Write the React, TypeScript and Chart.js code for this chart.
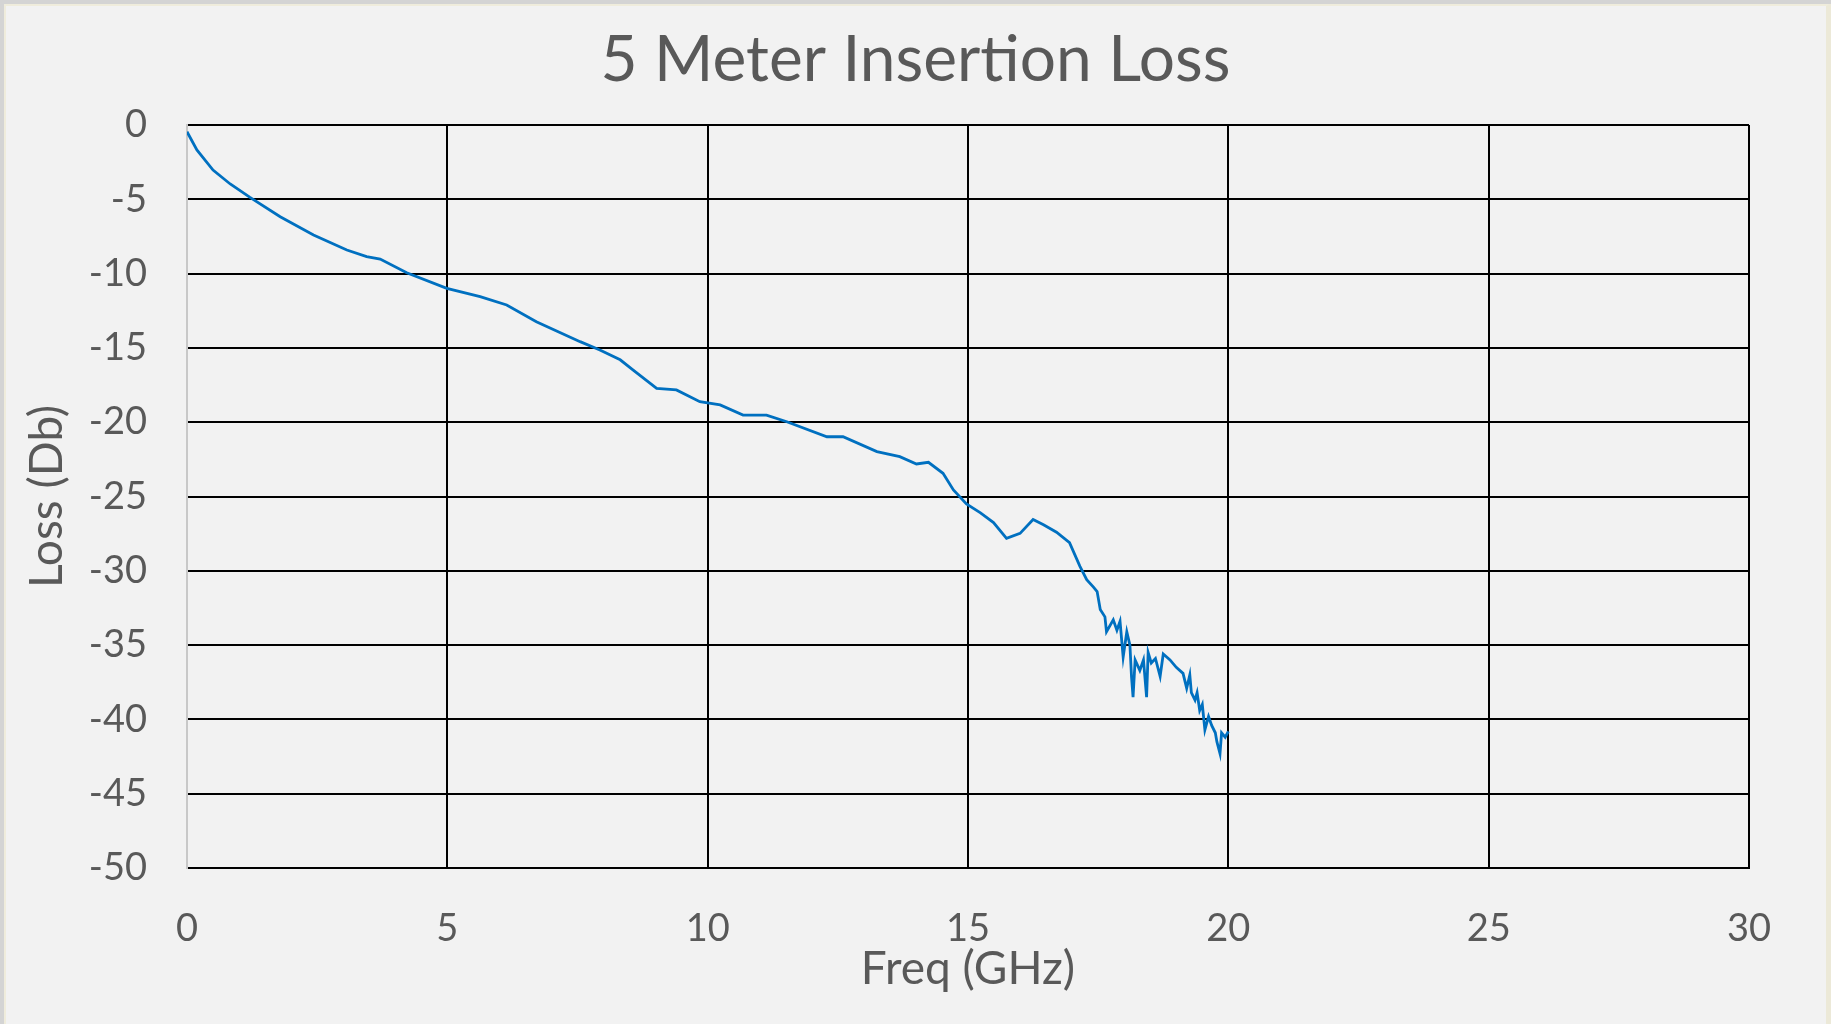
import React, { useEffect, useRef } from "react";
import { Chart, registerables } from "chart.js";

Chart.register(...registerables);

const chartTitle = "5 Meter Insertion Loss";
const xAxisTitle = "Freq (GHz)";
const yAxisTitle = "Loss (Db)";

const freqGHz = [
  0, 0.19, 0.5, 0.83, 1.21, 1.79, 2.43, 3.07, 3.45, 3.71, 4.22, 4.99, 5.63, 6.14, 6.71, 7.55, 7.93, 8.32,
  8.57, 9.02, 9.4, 9.85, 10.24, 10.68, 11.13, 11.52, 12.29, 12.6, 13.25, 13.69, 14.01, 14.24, 14.52,
  14.72, 14.97, 15.24, 15.49, 15.74, 16.0, 16.25, 16.45, 16.7, 16.95, 17.15, 17.28, 17.41, 17.48,
  17.54, 17.63, 17.66, 17.79, 17.86, 17.92, 17.98, 18.05, 18.11, 18.14, 18.17, 18.21, 18.3, 18.37,
  18.43, 18.46, 18.52, 18.6, 18.69, 18.75, 18.88, 19.0, 19.13, 19.2, 19.26, 19.29, 19.36, 19.4,
  19.45, 19.5, 19.55, 19.62, 19.68, 19.75, 19.78, 19.84, 19.87, 19.94, 20.0,
];

const lossDb = [
  -0.45, -1.68, -3.03, -3.97, -4.87, -6.17, -7.4, -8.41, -8.86, -9.02, -9.94, -10.99, -11.55, -12.11, -13.24,
  -14.58, -15.14, -15.8, -16.49, -17.72, -17.83, -18.62, -18.84, -19.52, -19.52, -19.97, -20.98,
  -20.98, -21.98, -22.32, -22.81, -22.7, -23.44, -24.56, -25.5, -26.1, -26.75, -27.82, -27.48,
  -26.55, -26.9, -27.4, -28.1, -29.7, -30.6, -31.1, -31.4, -32.6, -33.1, -34.1, -33.3, -34.0, -33.4,
  -35.8, -34.1, -35.0, -37.1, -38.5, -36.0, -36.7, -36.0, -38.5, -35.5, -36.2, -35.9, -37.1, -35.6,
  -36.0, -36.5, -36.9, -37.9, -37.0, -38.2, -38.7, -38.2, -39.4, -39.0, -40.7, -39.8, -40.4, -40.9,
  -41.5, -42.3, -40.9, -41.2, -40.8,
];

const xTicks = [0, 5, 10, 15, 20, 25, 30];
const yTicks = [0, -5, -10, -15, -20, -25, -30, -35, -40, -45, -50];

const TEXT = "#595959";
const FONT = "Lato";

export default function App() {
  const ref = useRef<HTMLCanvasElement | null>(null);

  useEffect(() => {
    document.body.style.margin = "0";
    const canvas = ref.current;
    if (!canvas) return;
    const points = freqGHz.map((f, i) => ({ x: f, y: lossDb[i] }));
    const chart = new Chart(canvas, {
      type: "scatter",
      data: {
        datasets: [
          {
            label: yAxisTitle,
            data: points,
            showLine: true,
            borderColor: "#0070C0",
            backgroundColor: "#0070C0",
            borderWidth: 2.8,
            pointRadius: 0,
            tension: 0,
            yAxisID: "y",
          },
        ],
      },
      options: {
        animation: false,
        responsive: false,
        maintainAspectRatio: false,
        layout: { padding: 0 },
        plugins: {
          legend: { display: false },
          tooltip: { enabled: false },
          title: {
            display: true,
            text: chartTitle,
            color: TEXT,
            font: { family: FONT, size: 64, weight: "normal", lineHeight: 1.2 },
            padding: { top: 21.6, bottom: 26.6 },
          },
        },
        scales: {
          x: {
            type: "linear",
            min: 0,
            max: 30,
            afterFit: (s: any) => {
              s.height = 156;
            },
            afterBuildTicks: (s: any) => {
              s.ticks = xTicks.map((v) => ({ value: v }));
            },
            ticks: {
              color: TEXT,
              font: { family: FONT, size: 38 },
              padding: 38,
              maxRotation: 0,
              autoSkip: false,
            },
            grid: {
              drawTicks: false,
              lineWidth: 2,
              color: (c: any) => (c.tick && c.tick.value === 0 ? "rgba(0,0,0,0)" : "#000000"),
            },
            border: { display: true, color: "#000000", width: 2 },
            title: {
              display: true,
              text: xAxisTitle,
              color: TEXT,
              font: { family: FONT, size: 46, lineHeight: 1.2 },
              padding: { top: 0, bottom: 27.4 },
            },
          },
          y: {
            type: "linear",
            position: "left",
            min: -50,
            max: 0,
            afterFit: (s: any) => {
              s.width = 187;
            },
            afterBuildTicks: (s: any) => {
              s.ticks = yTicks.map((v) => ({ value: v }));
            },
            ticks: {
              color: TEXT,
              font: { family: FONT, size: 38 },
              padding: 40,
              autoSkip: false,
            },
            grid: {
              drawTicks: false,
              lineWidth: 2,
              color: "#000000",
            },
            border: { display: true, color: "#c8c8c8", width: 2 },
            title: {
              display: true,
              text: yAxisTitle,
              color: TEXT,
              font: { family: FONT, size: 46, lineHeight: 1.2 },
              padding: { top: 19.4, bottom: 0 },
            },
          },
          yRight: {
            type: "linear",
            position: "right",
            min: -50,
            max: 0,
            afterFit: (s: any) => {
              s.width = 82;
            },
            ticks: { display: false },
            grid: { display: false, drawOnChartArea: false, drawTicks: false },
            border: { display: false },
            title: { display: false },
          },
        },
      },
    });
    return () => chart.destroy();
  }, []);

  return (
    <div
      style={{
        position: "relative",
        width: 1831,
        height: 1024,
        background: "#d4d4d4",
        overflow: "hidden",
      }}
    >
      <div
        style={{
          position: "absolute",
          left: 4,
          top: 4,
          right: 0,
          bottom: 0,
          background: "#f2f2f2",
          borderTop: "2px solid #efecdc",
          borderLeft: "2px solid #efecdc",
          borderRight: "5px solid #ece9d8",
          boxSizing: "border-box",
        }}
      />
      <canvas
        ref={ref}
        width={1831}
        height={1024}
        style={{ position: "absolute", left: 0, top: 0, width: 1831, height: 1024 }}
      />
    </div>
  );
}
